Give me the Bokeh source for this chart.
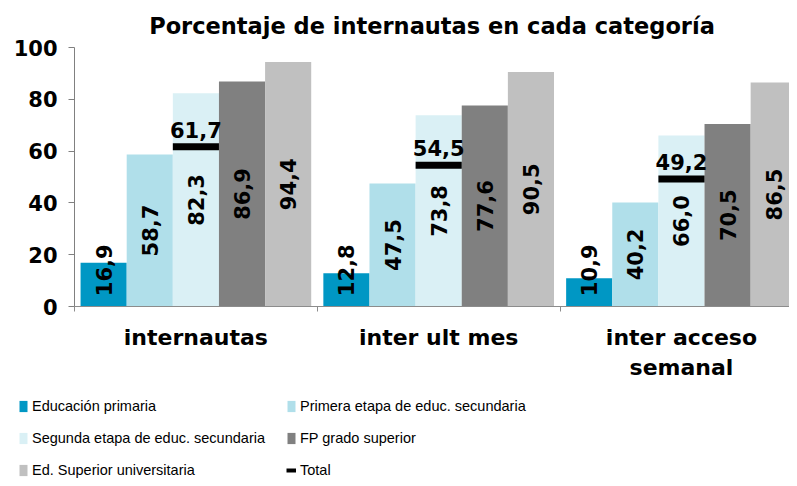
import math
from bokeh.plotting import figure
from bokeh.layouts import column
from bokeh.models import Range1d, FixedTicker, Legend, LegendItem, ColumnDataSource
from bokeh.core.properties import value
from bokeh.embed import file_html
from bokeh.resources import INLINE

# ---- data ----
categories = ["internautas", "inter ult mes", "inter acceso\nsemanal"]
series_names = [
    "Educación primaria",
    "Primera etapa de educ. secundaria",
    "Segunda etapa de educ. secundaria",
    "FP grado superior",
    "Ed. Superior universitaria",
]
primaria = [16.9, 12.8, 10.9]
primera_sec = [58.7, 47.5, 40.2]
segunda_sec = [82.3, 73.8, 66.0]
fp_superior = [86.9, 77.6, 70.5]
universitaria = [94.4, 90.5, 86.5]
total = [61.7, 54.5, 49.2]
y_ticks = [0, 20, 40, 60, 80, 100]

series_values = [primaria, primera_sec, segunda_sec, fp_superior, universitaria]
colors = ["#0097C4", "#B0DFEA", "#DAF0F5", "#808080", "#C0C0C0"]

BOLD_FONT = "DejaVu Sans"
BAR_W = 0.19
centers = [i + 0.5 for i in range(len(categories))]


def fmt(v):
    return f"{v:.1f}".replace(".", ",")


p = figure(
    width=789, height=382,
    x_range=Range1d(0, 2.945), y_range=Range1d(0, 100),
    output_backend="svg", toolbar_location=None,
    min_border_left=74, min_border_right=0,
    min_border_top=47, min_border_bottom=73,
)
p.frame_align = False
p.title.text = "Porcentaje de internautas en cada categoría"
p.title.align = "center"
p.title.vertical_align = "middle"
p.title.offset = 4
p.title.text_font = BOLD_FONT
p.title.text_font_size = "22.5px"
p.title.text_font_style = "bold"
p.title.text_color = "#000000"
p.title.standoff = 15

p.outline_line_color = None
p.xgrid.visible = False
p.ygrid.visible = False
p.background_fill_color = "white"

for i, (name, vals, col) in enumerate(zip(series_names, series_values, colors)):
    xs = [c + (i - 2) * BAR_W for c in centers]
    src = ColumnDataSource(dict(
        x=xs, top=vals,
        ly=[max(v / 2, 14.0) for v in vals],
        lab=[fmt(v) for v in vals],
    ))
    p.vbar(x="x", top="top", width=BAR_W, source=src,
           fill_color=col, line_color=None)
    p.text(x="x", y="ly", text="lab", source=src, angle=math.pi / 2,
           text_align="center", text_baseline="middle",
           text_font=value(BOLD_FONT), text_font_size="21px",
           text_font_style="bold", text_color="black")

tsrc = ColumnDataSource(dict(
    x0=[c - BAR_W / 2 for c in centers],
    x1=[c + BAR_W / 2 for c in centers],
    x=centers, y=total, lab=[fmt(v) for v in total],
))
p.segment(x0="x0", y0="y", x1="x1", y1="y", source=tsrc,
          line_color="black", line_width=7, line_cap="butt")
p.text(x="x", y="y", text="lab", source=tsrc, text_align="center",
       text_baseline="alphabetic", y_offset=-17,
       text_font=value(BOLD_FONT), text_font_size="21px",
       text_font_style="bold", text_color="black")

# x axis
xa = p.xaxis[0]
xa.ticker = FixedTicker(ticks=centers, minor_ticks=[0, 1, 2, 3])
xa.major_label_overrides = {c: lab for c, lab in zip(centers, categories)}
xa.major_tick_out = 0
xa.major_tick_in = 0
xa.minor_tick_out = 5
xa.minor_tick_in = 0
xa.axis_line_color = "#8C8C8C"
xa.minor_tick_line_color = "#8C8C8C"
xa.major_label_text_font = BOLD_FONT
xa.major_label_text_font_size = "22px"
xa.major_label_text_font_style = "bold"
xa.major_label_text_color = "black"
xa.major_label_standoff = 13

# y axis
ya = p.yaxis[0]
ya.ticker = FixedTicker(ticks=y_ticks, minor_ticks=[])
ya.major_tick_out = 6
ya.major_tick_in = 0
ya.axis_line_color = "#808080"
ya.major_tick_line_color = "#808080"
ya.major_label_text_font = BOLD_FONT
ya.major_label_text_font_size = "21px"
ya.major_label_text_font_style = "bold"
ya.major_label_text_color = "black"
ya.major_label_standoff = 11

# ---- legend figure ----
lf = figure(
    width=789, height=96,
    x_range=Range1d(0, 1), y_range=Range1d(0, 1),
    output_backend="svg", toolbar_location=None,
    x_axis_location=None, y_axis_location=None,
    min_border=0, outline_line_color=None,
)
lf.frame_align = False
lf.xgrid.visible = False
lf.ygrid.visible = False

# legend proxies: zero-size marks, only their styles are shown in the legend
legend_items = []
for name, col in zip(series_names, colors):
    r = lf.vbar(x=[0.5], bottom=[0.5], top=[0.5], width=0,
                fill_color=col, line_color=None)
    legend_items.append(LegendItem(label=name, renderers=[r]))
rt = lf.line(x=[0.5], y=[0.5], line_color="black", line_width=4)
legend_items.append(LegendItem(label="Total", renderers=[rt]))

legend = Legend(
    items=legend_items, location=(18, 0),
    orientation="horizontal", ncols=2,
    glyph_width=10, glyph_height=14, label_standoff=4, spacing=16,
    label_height=14, label_width=238, padding=0, margin=0,
    border_line_color=None, background_fill_alpha=0,
    label_text_font="Liberation Sans", label_text_font_size="14.5px",
    label_text_color="black",
)
lf.add_layout(legend)

layout = column(p, lf, spacing=0)
open("out.html", "w").write(file_html(layout, INLINE))
